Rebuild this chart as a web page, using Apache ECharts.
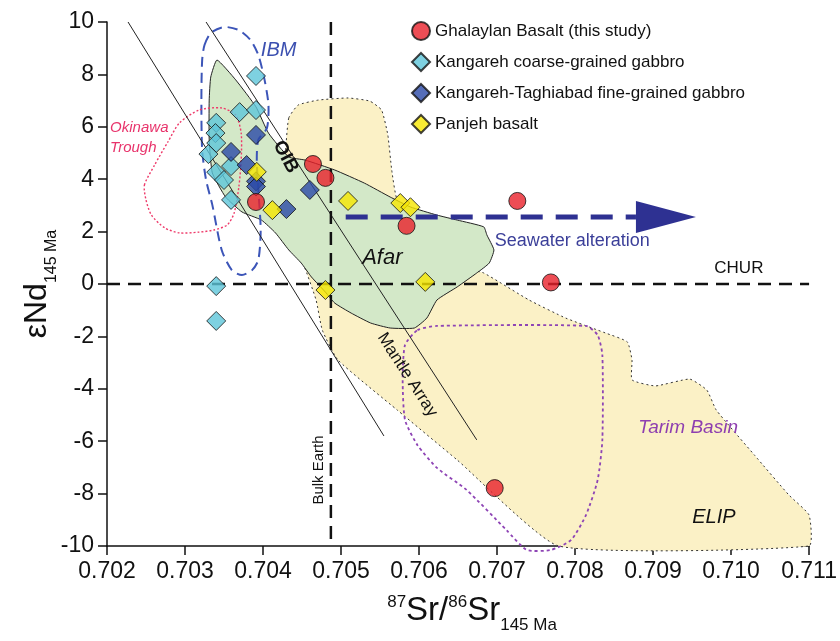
<!DOCTYPE html>
<html>
<head>
<meta charset="utf-8">
<script src="https://cdn.jsdelivr.net/npm/echarts@6/dist/echarts.min.js"></script>
<style>
  html, body { margin: 0; padding: 0; background: #fff; }
  #chart { width: 840px; height: 641px; }
</style>
</head>
<body>
<div id="chart"></div>
<script>
// sample points: [87Sr/86Sr(145 Ma), eNd(145 Ma)]
const ghalaylan = [[0.70391, 3.13], [0.70464, 4.58], [0.70480, 4.05], [0.70584, 2.22], [0.70726, 3.17], [0.70769, 0.06], [0.70697, -7.79]];
const kangarehCoarse = [[0.70391, 7.94], [0.70370, 6.56], [0.70391, 6.64], [0.70340, 6.15], [0.70339, 5.76], [0.70340, 5.38], [0.70330, 4.96], [0.70359, 4.50], [0.70340, 4.27], [0.70350, 3.97], [0.70359, 3.21], [0.70340, -0.08], [0.70340, -1.41]];
const kangarehFine = [[0.70391, 5.69], [0.70359, 5.04], [0.70379, 4.54], [0.70391, 3.92], [0.70391, 3.72], [0.70430, 2.86], [0.70460, 3.59]];
const panjeh = [[0.70392, 4.28], [0.70412, 2.82], [0.70509, 3.17], [0.70576, 3.09], [0.70589, 2.93], [0.70480, -0.23], [0.70608, 0.08]];

// reference fields
const oibAfar = [[0.70341, 8.55], [0.70365, 7.79], [0.70391, 6.76], [0.70407, 5.76], [0.70433, 4.85], [0.70454, 4.73], [0.70492, 4.35], [0.70530, 3.85], [0.70563, 3.32], [0.70589, 2.94], [0.70623, 2.63], [0.70649, 2.44], [0.70683, 2.18], [0.70687, 1.87], [0.70696, 1.30], [0.70690, 0.80], [0.70674, 0.42], [0.70649, -0.11], [0.70623, -0.61], [0.70610, -1.30], [0.70594, -1.68], [0.70563, -1.68], [0.70538, -1.49], [0.70513, -1.11], [0.70492, -0.73], [0.70480, -0.31], [0.70462, 0.27], [0.70449, 0.80], [0.70433, 1.30], [0.70416, 1.95], [0.70398, 2.44], [0.70373, 2.75], [0.70352, 3.32], [0.70335, 4.24], [0.70331, 5.50], [0.70331, 7.02], [0.70333, 7.90]];
const elip = [[0.70433, 6.34], [0.70445, 6.83], [0.70471, 7.02], [0.70509, 7.10], [0.70537, 6.98], [0.70552, 6.64], [0.70560, 5.69], [0.70565, 4.35], [0.70572, 3.21], [0.70610, 1.68], [0.70661, 0.61], [0.70683, 0.42], [0.70741, -0.61], [0.70788, -1.30], [0.70839, -1.87], [0.70867, -2.21], [0.70873, -2.90], [0.70873, -3.66], [0.70903, -3.89], [0.70947, -3.63], [0.70969, -4.05], [0.70981, -4.81], [0.71030, -6.53], [0.71074, -8.05], [0.71100, -8.82], [0.71100, -10], [0.70779, -10], [0.70649, -6.72], [0.70572, -4.81], [0.70496, -2.90], [0.70476, -1.76], [0.70468, -0.61], [0.70452, 0.73], [0.70433, 1.68], [0.70426, 3.21], [0.70429, 5.11]];
const tarim = [[0.70598, -1.76], [0.70623, -1.60], [0.70814, -1.60], [0.70829, -1.95], [0.70835, -2.71], [0.70835, -5.95], [0.70829, -7.48], [0.70814, -8.82], [0.70795, -9.77], [0.70769, -10.15], [0.70738, -10.15], [0.70712, -9.39], [0.70661, -7.86], [0.70623, -7.02], [0.70598, -6.15], [0.70582, -5.19], [0.70579, -3.66], [0.70582, -2.33]];
const ibm = [[0.70325, 9.12], [0.70333, 9.58], [0.70350, 9.81], [0.70369, 9.69], [0.70384, 9.31], [0.70394, 8.74], [0.70402, 7.79], [0.70407, 6.83], [0.70405, 5.95], [0.70394, 5.50], [0.70392, 4.73], [0.70394, 3.59], [0.70397, 2.06], [0.70394, 0.92], [0.70386, 0.53], [0.70373, 0.34], [0.70360, 0.53], [0.70347, 1.30], [0.70335, 3.02], [0.70327, 3.97], [0.70322, 5.11], [0.70321, 7.02], [0.70322, 8.55]];
const okinawa = [[0.70248, 3.78], [0.70261, 4.54], [0.70278, 5.42], [0.70293, 6.15], [0.70318, 6.64], [0.70347, 6.72], [0.70365, 6.45], [0.70372, 5.76], [0.70372, 4.73], [0.70369, 3.70], [0.70363, 2.71], [0.70354, 2.25], [0.70337, 2.06], [0.70318, 1.98], [0.70293, 1.95], [0.70274, 2.14], [0.70257, 2.63], [0.70250, 3.21]];

// reference lines
const mantleLeft = [[0.70227, 10], [0.70555, -5.8]];
const mantleRight = [[0.70327, 10], [0.70674, -5.95]];
const bulkEarth = [[0.70487, 10], [0.70487, -10]];
const chur = [[0.702, 0], [0.711, 0]];
const seawaterArrow = [[0.70506, 2.56], [0.70955, 2.56]];

// annotations
const annoText = ['IBM', 'Okinawa', 'Trough', 'OIB', 'Afar', 'Seawater alteration', 'CHUR', 'Mantle Array', 'Bulk Earth', 'Tarim Basin', 'ELIP'];
const annoPos = [[0.70420, 8.9], [0.70204, 5.95], [0.70204, 5.2], [0.70429, 4.85], [0.70553, 1.0], [0.70697, 1.64], [0.71010, 0.6], [0.70585, -3.47], [0.70472, -7.1], [0.70945, -5.5], [0.70978, -8.9]];

const xTicks = ['0.702', '0.703', '0.704', '0.705', '0.706', '0.707', '0.708', '0.709', '0.710', '0.711'];

const FONT = '"Liberation Sans", Arial, sans-serif';
const annoStyle = [
  { color: '#3c50b0', font: 'italic 20px ' + FONT },
  { color: '#e8336b', font: 'italic 15px ' + FONT, align: 'left' },
  { color: '#e8336b', font: 'italic 15px ' + FONT, align: 'left' },
  { color: '#111', font: 'bold 19px ' + FONT, rotate: -62 },
  { color: '#111', font: 'italic 22px ' + FONT },
  { color: '#3b3f99', font: '18px ' + FONT, align: 'left' },
  { color: '#111', font: '17px ' + FONT },
  { color: '#111', font: '17px ' + FONT, rotate: -57 },
  { color: '#111', font: '15px ' + FONT, rotate: 90 },
  { color: '#8e3fb0', font: 'italic 19px ' + FONT },
  { color: '#111', font: 'italic 20px ' + FONT }
];

const chart = echarts.init(document.getElementById('chart'));

function areaSeries(pts, st, z) {
  return {
    type: 'custom', silent: true, z: z, clip: false,
    data: [pts[0]],
    renderItem: function (params, api) {
      return {
        type: 'polygon',
        shape: { points: pts.map(p => api.coord(p)), smooth: st.smooth || 0 },
        style: { fill: st.fill || 'none', stroke: st.stroke, lineWidth: st.lineWidth || 1, lineDash: st.lineDash || null }
      };
    }
  };
}

function lineSeries(pts, lineStyle, z) {
  return {
    type: 'line', data: pts, symbol: 'none', silent: true, z: z,
    lineStyle: lineStyle, animation: false
  };
}

const pointStyle = { borderColor: '#111', borderWidth: 1 };

const option = {
  animation: false,
  grid: { left: 107, right: 26, top: 22, bottom: 95 },
  legend: {
    orient: 'vertical', left: 406, top: 16, itemGap: 11,
    itemWidth: 18, itemHeight: 18,
    textStyle: { fontFamily: FONT, fontSize: 17, color: '#111' },
    data: ['Ghalaylan Basalt (this study)', 'Kangareh coarse-grained gabbro', 'Kangareh-Taghiabad fine-grained gabbro', 'Panjeh basalt']
  },
  xAxis: {
    type: 'value', min: 0.702, max: 0.711, interval: 0.001,
    splitLine: { show: false },
    axisLine: { onZero: false, lineStyle: { color: '#111', width: 1.5 } },
    axisTick: { length: 9, lineStyle: { color: '#111', width: 1.5 } },
    axisLabel: {
      margin: 14, color: '#111', fontSize: 23, fontFamily: FONT,
      formatter: (v) => xTicks[Math.round((v - 0.702) * 1000)]
    },
    name: '{sup|87}{a|Sr/}{sup|86}{a|Sr}{sub|145 Ma}',
    nameLocation: 'middle', nameGap: 48,
    nameTextStyle: {
      padding: [0, 0, 0, 28],
      rich: {
        a: { fontSize: 33, fontFamily: FONT, color: '#111', padding: [0, 0, 7, 0], verticalAlign: 'bottom' },
        sup: { fontSize: 17, fontFamily: FONT, color: '#111', verticalAlign: 'top' },
        sub: { fontSize: 17, fontFamily: FONT, color: '#111', verticalAlign: 'bottom' }
      }
    }
  },
  yAxis: {
    type: 'value', min: -10, max: 10, interval: 2,
    splitLine: { show: false },
    axisLine: { onZero: false, lineStyle: { color: '#111', width: 1.5 } },
    axisTick: { length: 9, lineStyle: { color: '#111', width: 1.5 } },
    axisLabel: { margin: 13, color: '#111', fontSize: 23, fontFamily: FONT },
    name: '{a|εNd}{sub|145 Ma}',
    nameLocation: 'middle', nameGap: 47, nameRotate: 90, nameMoveOverlap: false,
    nameTextStyle: {
      rich: {
        a: { fontSize: 32, fontFamily: FONT, color: '#111', padding: [0, 0, 7, 0], verticalAlign: 'bottom' },
        sub: { fontSize: 16, fontFamily: FONT, color: '#111', verticalAlign: 'bottom' }
      }
    }
  },
  series: [
    areaSeries(elip, { fill: '#fbf1c6', stroke: '#333', lineWidth: 1, lineDash: [2, 3], smooth: 0.15 }, 1),
    areaSeries(oibAfar, { fill: '#d3e8c8', stroke: '#222', lineWidth: 1, smooth: 0.15 }, 2),
    areaSeries(tarim, { stroke: '#8e44b5', lineWidth: 1.8, lineDash: [3, 3], smooth: 0.2 }, 3),
    areaSeries(ibm, { stroke: '#3c55b8', lineWidth: 2, lineDash: [10, 6], smooth: 0.25 }, 3),
    areaSeries(okinawa, { stroke: '#ee3a6a', lineWidth: 1.4, lineDash: [2, 2], smooth: 0.25 }, 3),
    lineSeries(mantleLeft, { color: '#222', width: 1 }, 4),
    lineSeries(mantleRight, { color: '#222', width: 1 }, 4),
    lineSeries(bulkEarth, { color: '#111', width: 2.5, type: [13, 8] }, 4),
    lineSeries(chur, { color: '#111', width: 2.5, type: [13, 8] }, 4),
    {
      type: 'custom', silent: true, z: 5,
      data: [seawaterArrow[0]],
      renderItem: function (params, api) {
        const a = api.coord(seawaterArrow[0]);
        const b = api.coord(seawaterArrow[1]);
        const head = 60, half = 16;
        return {
          type: 'group',
          children: [
            { type: 'line', shape: { x1: a[0], y1: a[1], x2: b[0] - head, y2: b[1] }, style: { stroke: '#2e3192', lineWidth: 5, lineDash: [22, 13] } },
            { type: 'polygon', shape: { points: [[b[0] - head, b[1] - half], [b[0], b[1]], [b[0] - head, b[1] + half]] }, style: { fill: '#2e3192' } }
          ]
        };
      }
    },
    {
      type: 'custom', silent: true, z: 6,
      data: annoPos.map((p, i) => [p[0], p[1], i]),
      renderItem: function (params, api) {
        const i = api.value(2);
        const pt = api.coord([api.value(0), api.value(1)]);
        const s = annoStyle[i];
        return {
          type: 'text', x: pt[0], y: pt[1], rotation: (s.rotate || 0) * Math.PI / 180,
          style: { text: annoText[i], fill: s.color, font: s.font, align: s.align || 'center', verticalAlign: 'middle', textAlign: s.align || 'center', textVerticalAlign: 'middle' }
        };
      }
    },
    { name: 'Kangareh coarse-grained gabbro', type: 'scatter', data: kangarehCoarse, symbol: 'diamond', symbolSize: 19, z: 10, itemStyle: Object.assign({ color: '#5ec6da' }, pointStyle) },
    { name: 'Kangareh-Taghiabad fine-grained gabbro', type: 'scatter', data: kangarehFine, symbol: 'diamond', symbolSize: 19, z: 10, itemStyle: Object.assign({ color: '#2b48a6' }, pointStyle) },
    { name: 'Panjeh basalt', type: 'scatter', data: panjeh, symbol: 'diamond', symbolSize: 19, z: 11, itemStyle: Object.assign({ color: '#f6e600' }, pointStyle) },
    { name: 'Ghalaylan Basalt (this study)', type: 'scatter', data: ghalaylan, symbol: 'circle', symbolSize: 17, z: 12, itemStyle: Object.assign({ color: '#e8202a' }, pointStyle) }
  ]
};

chart.setOption(option);
window.addEventListener('resize', () => chart.resize());
</script>
</body>
</html>
